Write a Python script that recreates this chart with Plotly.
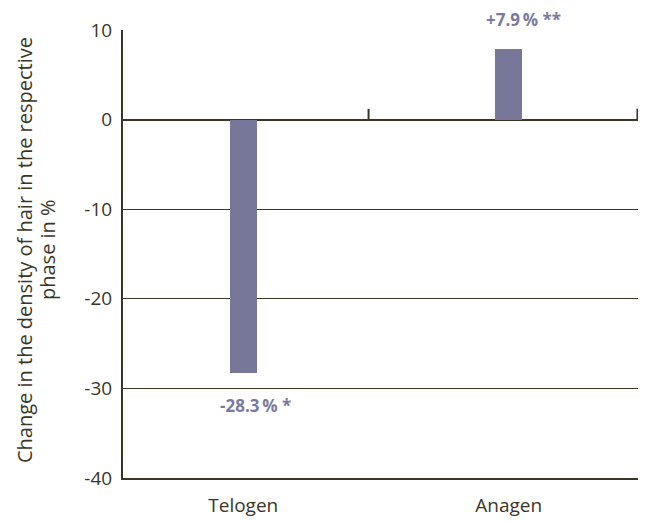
import plotly.graph_objects as go

categories = ["Telogen", "Anagen"]
values = [-28.3, 7.9]
labels = ["-28.3\u2009% *", "+7.9\u2009% **"]
y_ticks = [10, 0, -10, -20, -30, -40]
y_title_lines = ["Change in the density of hair in the respective", "phase in %"]

bar_color = "#77779a"
label_color = "#7a7a9e"
axis_color = "#3a3626"
text_color = "#3a3626"
font = "Open Sans, Lato, sans-serif"

xpos = list(range(len(categories)))

fig = go.Figure()
fig.add_trace(go.Bar(
    x=xpos, y=values, width=0.102, marker=dict(color=bar_color, line=dict(width=0)),
    showlegend=False, hoverinfo="skip"))

for i, (v, lab) in enumerate(zip(values, labels)):
    fig.add_annotation(x=xpos[i], y=v, text="<b>" + lab + "</b>", showarrow=False,
                       yanchor="middle", xanchor="center",
                       yshift=(-32 if v < 0 else 29), xshift=(12 if v < 0 else 15),
                       font=dict(family=font, size=17, color=label_color))

# rotated y-axis title, two lines
for line, xs in zip(y_title_lines, [-99, -76]):
    fig.add_annotation(xref="paper", yref="paper", x=0, y=0.5, text=line,
                       textangle=-90, showarrow=False, xanchor="center", yanchor="middle",
                       xshift=xs, yshift=4,
                       font=dict(family=font, size=20, color=text_color))

# small tick marks at category boundaries on the zero line
for xb in [0.472, 1.485]:
    fig.add_shape(type="line", x0=xb, x1=xb, y0=0, y1=1.2, xref="x", yref="y",
                  line=dict(color=axis_color, width=2))

fig.update_layout(
    width=630, height=514,
    margin=dict(l=115, r=0, t=22, b=44, autoexpand=False),
    paper_bgcolor="white", plot_bgcolor="white",
    font=dict(family=font, color=text_color),
    bargap=0,
)
fig.update_xaxes(
    range=[-0.453, 1.487], tickvals=xpos, ticktext=categories, automargin=False,
    showgrid=False, zeroline=False, showline=True, linecolor=axis_color, linewidth=2,
    ticks="", tickfont=dict(family=font, size=19, color=text_color), ticklabelstandoff=9)
fig.update_yaxes(
    range=[-40, 10], tickvals=y_ticks, ticktext=[str(t) for t in y_ticks], automargin=False,
    showgrid=True, gridcolor=axis_color, gridwidth=1,
    zeroline=True, zerolinecolor=axis_color, zerolinewidth=2,
    showline=True, linecolor=axis_color, linewidth=2, ticks="",
    tickfont=dict(family=font, size=19, color=text_color), ticklabelstandoff=5)

fig.write_html("out.html")
